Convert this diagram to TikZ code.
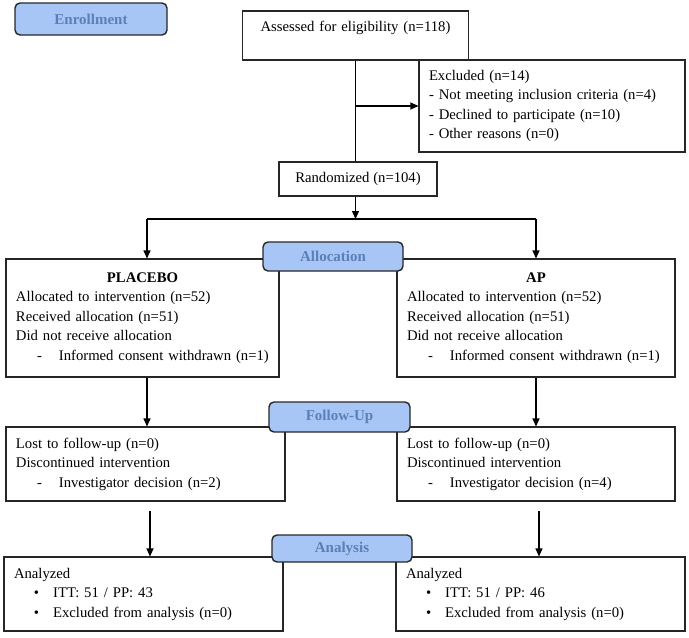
\documentclass[tikz,border=0pt]{standalone}
\usepackage{fontspec}
\setmainfont{Liberation Serif}
\usepackage{tikz}
\usetikzlibrary{arrows.meta}
\definecolor{lblfill}{HTML}{A7C5F5}
\definecolor{lbltext}{HTML}{5A80B8}

\begin{document}
\begin{tikzpicture}[x=1pt,y=-1pt,line width=1.1pt,
  box/.style={draw=black!85,inner xsep=10pt,inner ysep=0pt,align=left,font=\fontsize{14.7}{19.5}\selectfont},
  lbl/.style={draw=black!85,line width=1.4pt,fill=lblfill,rounded corners=5pt,text=lbltext,font=\fontsize{15}{18}\selectfont\bfseries,minimum width=140pt,minimum height=29pt,inner sep=0pt},
  >={Triangle[length=8pt,width=7pt]}]
\useasboundingbox (0,0) rectangle (689,638);
\node[box,text width=206pt,align=center,text height=20pt,text depth=29pt] (assess) at (355.5,35.5) {Assessed for eligibility (n=118)};
\node[box,text width=246pt,minimum height=92pt] (excl) at (552,106) {Excluded (n=14)\\- Not meeting inclusion criteria (n=4)\\- Declined to participate (n=10)\\- Other reasons (n=0)};
\node[box,align=center,minimum width=158pt,minimum height=34pt] (rand) at (358,179) {Randomized (n=104)};
\node[box,text width=253pt,minimum height=118pt] (plac) at (142.5,318) {\makebox[\linewidth][c]{\textbf{PLACEBO}}\\Allocated to intervention (n=52)\\Received allocation (n=51)\\Did not receive allocation\\\hspace*{21pt}-\hspace*{17pt}Informed consent withdrawn (n=1)};
\node[box,text width=258pt,minimum height=118pt] (ap) at (536,318) {\makebox[\linewidth][c]{\textbf{AP}}\\Allocated to intervention (n=52)\\Received allocation (n=51)\\Did not receive allocation\\\hspace*{21pt}-\hspace*{17pt}Informed consent withdrawn (n=1)};
\node[box,text width=259pt,minimum height=74pt] (fuL) at (145.5,464) {Lost to follow-up (n=0)\\Discontinued intervention\\\hspace*{21pt}-\hspace*{17pt}Investigator decision (n=2)};
\node[box,text width=258pt,minimum height=74pt] (fuR) at (536,464) {Lost to follow-up (n=0)\\Discontinued intervention\\\hspace*{21pt}-\hspace*{17pt}Investigator decision (n=4)};
\node[box,text width=259pt,minimum height=74pt] (anL) at (143.5,594) {Analyzed\\\hspace*{20pt}\textbullet\hspace*{14pt}ITT: 51 / PP: 43\\\hspace*{20pt}\textbullet\hspace*{14pt}Excluded from analysis (n=0)};
\node[box,text width=269pt,minimum height=74pt] (anR) at (540.5,594) {Analyzed\\\hspace*{20pt}\textbullet\hspace*{14pt}ITT: 51 / PP: 46\\\hspace*{20pt}\textbullet\hspace*{14pt}Excluded from analysis (n=0)};
\node[lbl,minimum width=152pt,minimum height=32pt] (enr) at (91,19) {Enrollment};
\node[lbl] (alloc) at (333,256.5) {Allocation};
\node[lbl,minimum width=141pt,minimum height=30pt] (fol) at (339.5,417) {Follow-Up};
\node[lbl,minimum height=27pt] (ana) at (342,548.5) {Analysis};
\coordinate (br) at (assess.south |- excl.west);
\coordinate (spL) at (147,219);
\coordinate (spR) at (536,219);
\coordinate (dnL) at (150,511);
\coordinate (dnR) at (539,511);
\draw (assess.south) -- (assess.south |- rand.north);
\draw[->] (br) -- (excl.west);
\draw[->] (assess.south |- rand.south) -- (assess.south |- spL);
\draw (spL) -- (spR);
\draw[->] (spL) -- (spL |- plac.north);
\draw[->] (spR) -- (spR |- ap.north);
\draw[->] (spL |- plac.south) -- (spL |- fuL.north);
\draw[->] (ap.south) -- (fuR.north);
\draw[->] (dnL) -- (dnL |- anL.north);
\draw[->] (dnR) -- (dnR |- anR.north);
\end{tikzpicture}
\end{document}
